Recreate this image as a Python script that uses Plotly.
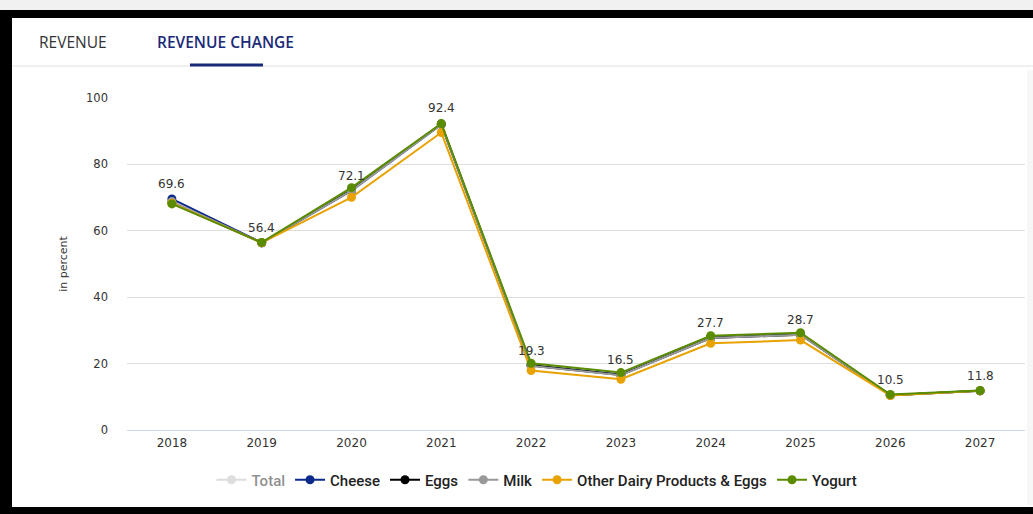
import plotly.graph_objects as go

years = ["2018", "2019", "2020", "2021", "2022", "2023", "2024", "2025", "2026", "2027"]
total = [69.6, 56.4, 72.1, 92.4, 19.3, 16.5, 27.7, 28.7, 10.5, 11.8]
cheese = [69.6, 56.4, 72.1, 92.0, 19.5, 16.7, 27.9, 28.9, 10.5, 11.8]
eggs = [68.5, 56.4, 72.3, 92.2, 19.4, 16.6, 27.7, 28.7, 10.5, 11.8]
milk = [68.8, 56.4, 72.1, 92.0, 19.3, 16.5, 27.7, 28.7, 10.5, 11.8]
other = [68.3, 56.4, 70.1, 89.6, 17.9, 15.3, 26.1, 27.1, 10.4, 11.8]
yogurt = [68.1, 56.5, 73.0, 92.3, 20.1, 17.3, 28.4, 29.3, 10.7, 11.9]

W, H = 1033, 514
L, R, T, B = 127, 1025, 98, 430  # plot area in pixels


def px(x):
    return (x - L) / (R - L)


def py(y):
    return (B - y) / (B - T)


fig = go.Figure()
series = [
    ("Total", total, "#bbbbbb", "legendonly"),
    ("Cheese", cheese, "#0b2a8c", True),
    ("Eggs", eggs, "#000000", True),
    ("Milk", milk, "#999999", True),
    ("Other Dairy Products & Eggs", other, "#e8a202", True),
    ("Yogurt", yogurt, "#5a8c00", True),
]
for name, vals, col, vis in series:
    fig.add_trace(go.Scatter(
        x=years, y=vals, name=name, mode="lines+markers", visible=vis,
        line=dict(color=col, width=2),
        marker=dict(color=col, size=9, symbol="circle"),
    ))

annotations = []
for i, v in enumerate(total):
    annotations.append(dict(x=i, y=v, xref="x", yref="y", text=f"{v:.1f}",
                            showarrow=False, yshift=15,
                            font=dict(family="DejaVu Sans", size=12, color="#333333")))

annotations += [
    dict(x=px(37), y=py(42), xref="paper", yref="paper", text="REVENUE", showarrow=False,
         xanchor="left", yanchor="middle",
         font=dict(family="Open Sans", size=15.5, color="#333333", weight=500)),
    dict(x=px(155), y=py(42), xref="paper", yref="paper", text="REVENUE CHANGE", showarrow=False,
         xanchor="left", yanchor="middle",
         font=dict(family="Open Sans", size=15.5, color="#1b2a78", weight=600)),
]

shapes = [
    dict(type="rect", xref="paper", yref="paper", x0=px(0), x1=px(W), y0=py(0), y1=py(11),
         fillcolor="#f1f1f1", line=dict(width=0), layer="below"),
    dict(type="rect", xref="paper", yref="paper", x0=px(1027), x1=px(W), y0=py(70), y1=py(505),
         fillcolor="#f7f7f7", line=dict(width=0), layer="below"),
    dict(type="rect", xref="paper", yref="paper", x0=px(0), x1=px(W), y0=py(10), y1=py(18),
         fillcolor="#000000", line=dict(width=0)),
    dict(type="rect", xref="paper", yref="paper", x0=px(0), x1=px(12), y0=py(10), y1=py(H),
         fillcolor="#000000", line=dict(width=0)),
    dict(type="rect", xref="paper", yref="paper", x0=px(0), x1=px(W), y0=py(507), y1=py(H),
         fillcolor="#000000", line=dict(width=0)),
    dict(type="line", xref="paper", yref="paper", x0=px(12), x1=px(W), y0=py(66), y1=py(66),
         line=dict(color="#eef0f4", width=2)),
    dict(type="line", xref="paper", yref="paper", x0=px(190), x1=px(263), y0=py(65), y1=py(65),
         line=dict(color="#1b2a78", width=3)),
]

fig.update_layout(
    width=W, height=H,
    margin=dict(l=L, r=W - R, t=T, b=H - B, pad=0),
    paper_bgcolor="#ffffff", plot_bgcolor="#ffffff",
    showlegend=True,
    legend=dict(orientation="h", x=px(537), xanchor="center", y=py(480), yanchor="middle",
                font=dict(family="Roboto", size=15, color="#222222", weight=500),
                itemwidth=30, traceorder="normal"),
    xaxis=dict(type="category", range=[-0.5, 9.5], showgrid=False, zeroline=False,
               showline=False, ticks="", fixedrange=True,
               tickfont=dict(family="DejaVu Sans", size=12, color="#333333"),
               ticklabelstandoff=4),
    yaxis=dict(range=[0, 100], tickvals=[0, 20, 40, 60, 80, 100], showgrid=True,
               gridcolor="#dedede", gridwidth=1, zeroline=True, zerolinecolor="#ccd6eb",
               zerolinewidth=1, showline=False, ticks="",
               tickfont=dict(family="DejaVu Sans", size=11.5, color="#333333"),
               ticklabelstandoff=18,
               title=dict(text="in percent", standoff=16,
                          font=dict(family="DejaVu Sans", size=11, color="#333333"))),
    annotations=annotations,
    shapes=shapes,
)

fig.write_html("out.html")
